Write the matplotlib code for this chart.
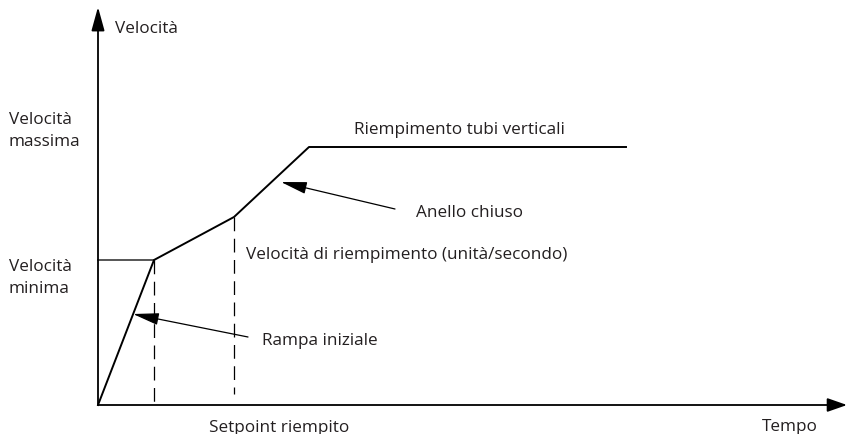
import matplotlib
matplotlib.use("Agg")
from matplotlib import pyplot as plt

plt.rcParams['font.family'] = ['Open Sans', 'DejaVu Sans']

# coordinates (pixel space, y grows downward)
curve_x = [98, 154, 234, 309, 626]
curve_y = [406, 261, 218, 148, 148]
min_speed_x = [98, 154]
min_speed_y = [261, 261]
dash_x = [154, 234]
dash_top = [261, 218]
dash_bottom = [406, 395]

labels = ["Velocità", "Velocità\nmassima", "Velocità\nminima",
          "Riempimento tubi verticali", "Anello chiuso",
          "Velocità di riempimento (unità/secondo)", "Rampa iniziale",
          "Setpoint riempito", "Tempo"]
label_x = [115, 9, 9, 354, 416, 246, 262, 209, 762]
label_y = [29, 131, 278, 130, 213, 255, 341, 428, 427]

fig = plt.figure(figsize=(8.49, 4.35), dpi=100)
ax = fig.add_axes([0, 0, 1, 1])
ax.set_xlim(0, 849)
ax.set_ylim(435, 0)
ax.axis("off")

# axes arrows
ax.annotate("", xy=(98, 8), xytext=(98, 406),
            arrowprops=dict(arrowstyle="-|>,head_length=1.45,head_width=0.4",
                            color="black", lw=1.3, shrinkA=0, shrinkB=0))
ax.annotate("", xy=(847, 406), xytext=(98, 406),
            arrowprops=dict(arrowstyle="-|>,head_length=1.2,head_width=0.42",
                            color="black", lw=1.3, shrinkA=0, shrinkB=0))

ax.plot(min_speed_x, min_speed_y, color="#555555", lw=1.4)
ax.plot(curve_x, curve_y, color="black", lw=1.4)
for x, t, b in zip(dash_x, dash_top, dash_bottom):
    ax.plot([x, x], [t, b], color="black", lw=0.9, dashes=(11, 6))

# pointer arrows
ax.annotate("", xy=(133, 315), xytext=(248, 338),
            arrowprops=dict(arrowstyle="-|>,head_length=1.6,head_width=0.37",
                            color="black", lw=0.9, shrinkA=0, shrinkB=0))
ax.annotate("", xy=(281, 183), xytext=(395, 210),
            arrowprops=dict(arrowstyle="-|>,head_length=1.6,head_width=0.37",
                            color="black", lw=0.9, shrinkA=0, shrinkB=0))

for s, x, y in zip(labels, label_x, label_y):
    ax.text(x, y, s, fontsize=12.3, ha="left", va="center", color="#231f20", linespacing=1.45)

fig.savefig("out.png", dpi=100)
